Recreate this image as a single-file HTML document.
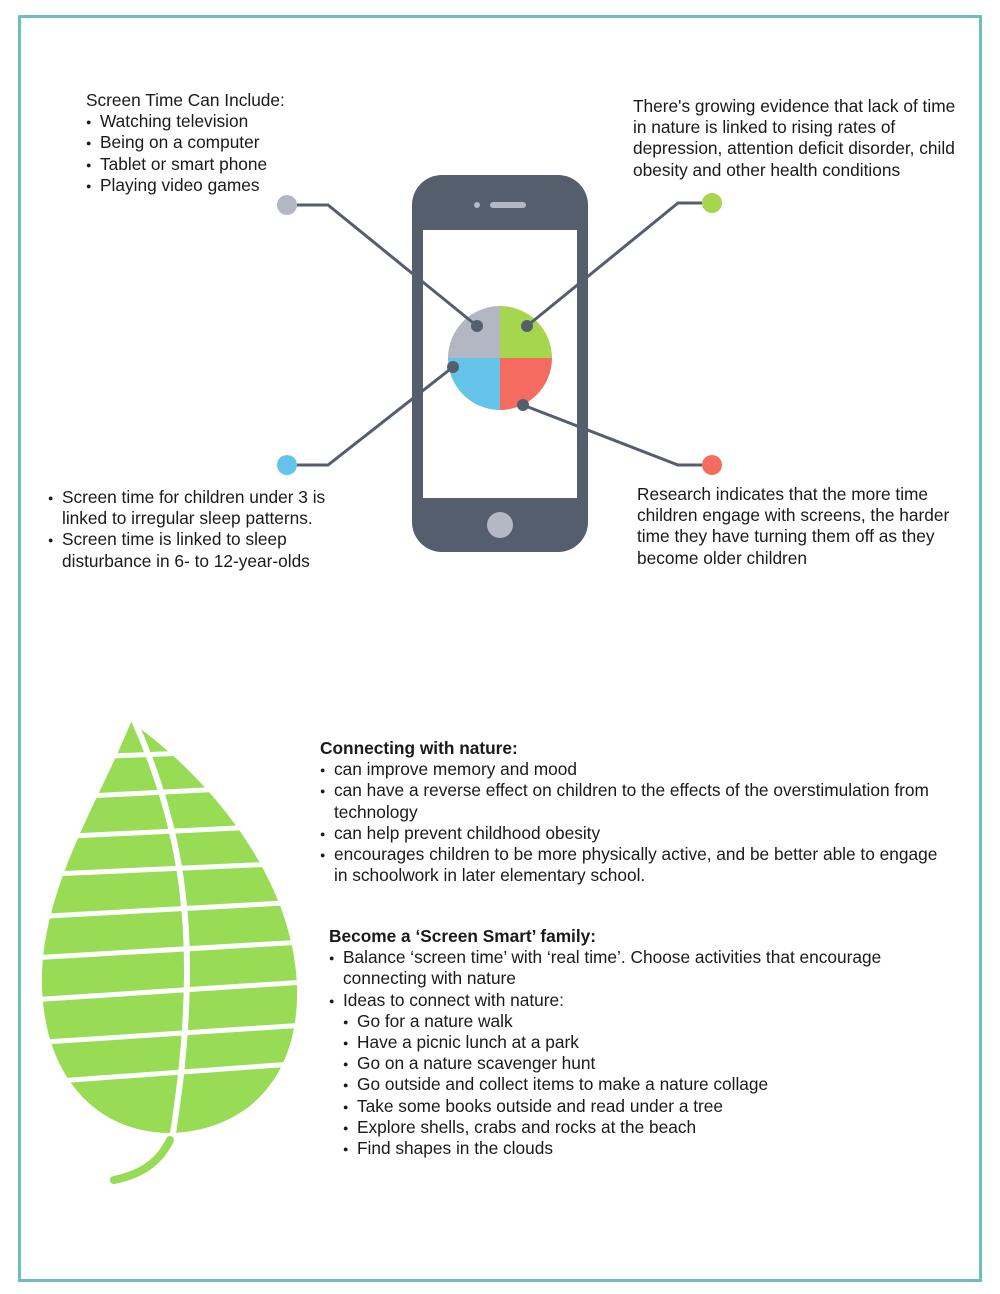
<!DOCTYPE html>
<html><head><meta charset="utf-8"><style>
html,body{margin:0;padding:0;background:#fff;}
body{width:1000px;height:1294px;position:relative;overflow:hidden;font-family:"Liberation Sans",Arial,sans-serif;color:#1a1a1a;font-size:17.3px;}
.frame{position:absolute;left:18px;top:15px;width:958px;height:1261px;border:3px solid #6dbfbf;}
.b{position:absolute;line-height:21.2px;white-space:nowrap;}
.b div{position:relative;}
.i1{padding-left:14px;}
.i2{padding-left:28px;}
.d::before{content:"●";font-size:9px;position:absolute;margin-left:-14px;top:1px;}
.h{font-weight:bold;}
svg{position:absolute;left:0;top:0;}
</style></head><body>
<div class="frame"></div>
<svg width="1000" height="1294" viewBox="0 0 1000 1294">
  <defs>
    <clipPath id="lc"><path d="M131,722 C200,770 292,870 297,985 C300,1080 245,1130 172,1133 C100,1134 44,1080 42,985 C40,890 100,800 131,722 Z"/></clipPath>
  </defs>
  <rect x="412" y="175" width="176" height="377" rx="30" fill="#555e6d"/>
  <rect x="423" y="230" width="154" height="268" fill="#fff"/>
  <circle cx="500" cy="525" r="13" fill="#b4b8c4"/>
  <rect x="490" y="202" width="36" height="6" rx="3" fill="#b4b8c4"/>
  <circle cx="477" cy="205" r="3" fill="#b4b8c4"/>
  <path d="M500,358 L500,306 A52,52 0 0 0 448,358 Z" fill="#b2b7c3"/>
  <path d="M500,358 L552,358 A52,52 0 0 0 500,306 Z" fill="#a5d64d"/>
  <path d="M500,358 L448,358 A52,52 0 0 0 500,410 Z" fill="#64c3e8"/>
  <path d="M500,358 L500,410 A52,52 0 0 0 552,358 Z" fill="#f56b5f"/>
  <g stroke="#555e6d" stroke-width="3" fill="none">
    <polyline points="297,205 328,205 477,326"/>
    <polyline points="702,203 678,203 527,326"/>
    <polyline points="297,465 328,465 453,367"/>
    <polyline points="702,465 678,465 523,405"/>
  </g>
  <g fill="#555e6d">
    <circle cx="477" cy="326" r="6"/><circle cx="527" cy="326" r="6"/>
    <circle cx="453" cy="367" r="6"/><circle cx="523" cy="405" r="6"/>
  </g>
  <circle cx="287" cy="205" r="10" fill="#b2b7c3"/>
  <circle cx="712" cy="203" r="10" fill="#a5d64d"/>
  <circle cx="287" cy="465" r="10" fill="#64c3e8"/>
  <circle cx="712" cy="465" r="10" fill="#f56b5f"/>
  <g clip-path="url(#lc)">
    <rect x="30" y="715" width="280" height="430" fill="#98dc55"/>
    <g stroke="#fff" stroke-width="5">
      <line x1="30" y1="759" x2="320" y2="748"/>
      <line x1="30" y1="799" x2="320" y2="784"/>
      <line x1="30" y1="838" x2="320" y2="824"/>
      <line x1="30" y1="875" x2="320" y2="862"/>
      <line x1="30" y1="917" x2="320" y2="901"/>
      <line x1="30" y1="958" x2="320" y2="941"/>
      <line x1="30" y1="1000" x2="320" y2="981"/>
      <line x1="30" y1="1043" x2="320" y2="1024"/>
      <line x1="30" y1="1083" x2="320" y2="1062"/>
    </g>
    <path d="M133,718 C170,800 188,880 187,977 C186,1050 178,1100 172,1140" stroke="#fff" stroke-width="6" fill="none"/>
  </g>
  <path d="M170,1140 C158,1165 138,1175 114,1180" stroke="#98dc55" stroke-width="8" fill="none" stroke-linecap="round"/>
</svg>

<div class="b" style="left:86px;top:90px;">
  <div>Screen Time Can Include:</div>
  <div class="i1 d">Watching television</div>
  <div class="i1 d">Being on a computer</div>
  <div class="i1 d">Tablet or smart phone</div>
  <div class="i1 d">Playing video games</div>
</div>
<div class="b" style="left:633px;top:96px;">
  <div>There's growing evidence that lack of time</div>
  <div>in nature is linked to rising rates of</div>
  <div>depression, attention deficit disorder, child</div>
  <div>obesity and other health conditions</div>
</div>
<div class="b" style="left:48px;top:487px;">
  <div class="i1 d">Screen time for children under 3 is</div>
  <div class="i1">linked to irregular sleep patterns.</div>
  <div class="i1 d">Screen time is linked to sleep</div>
  <div class="i1">disturbance in 6- to 12-year-olds</div>
</div>
<div class="b" style="left:637px;top:484px;">
  <div>Research indicates that the more time</div>
  <div>children engage with screens, the harder</div>
  <div>time they have turning them off as they</div>
  <div>become older children</div>
</div>
<div class="b" style="left:320px;top:738px;">
  <div class="h">Connecting with nature:</div>
  <div class="i1 d">can improve memory and mood</div>
  <div class="i1 d">can have a reverse effect on children to the effects of the overstimulation from</div>
  <div class="i1">technology</div>
  <div class="i1 d">can help prevent childhood obesity</div>
  <div class="i1 d">encourages children to be more physically active, and be better able to engage</div>
  <div class="i1">in schoolwork in later elementary school.</div>
</div>
<div class="b" style="left:329px;top:926px;">
  <div class="h">Become a ‘Screen Smart’ family:</div>
  <div class="i1 d">Balance ‘screen time’ with ‘real time’. Choose activities that encourage</div>
  <div class="i1">connecting with nature</div>
  <div class="i1 d">Ideas to connect with nature:</div>
  <div class="i2 d">Go for a nature walk</div>
  <div class="i2 d">Have a picnic lunch at a park</div>
  <div class="i2 d">Go on a nature scavenger hunt</div>
  <div class="i2 d">Go outside and collect items to make a nature collage</div>
  <div class="i2 d">Take some books outside and read under a tree</div>
  <div class="i2 d">Explore shells, crabs and rocks at the beach</div>
  <div class="i2 d">Find shapes in the clouds</div>
</div>
</body></html>
